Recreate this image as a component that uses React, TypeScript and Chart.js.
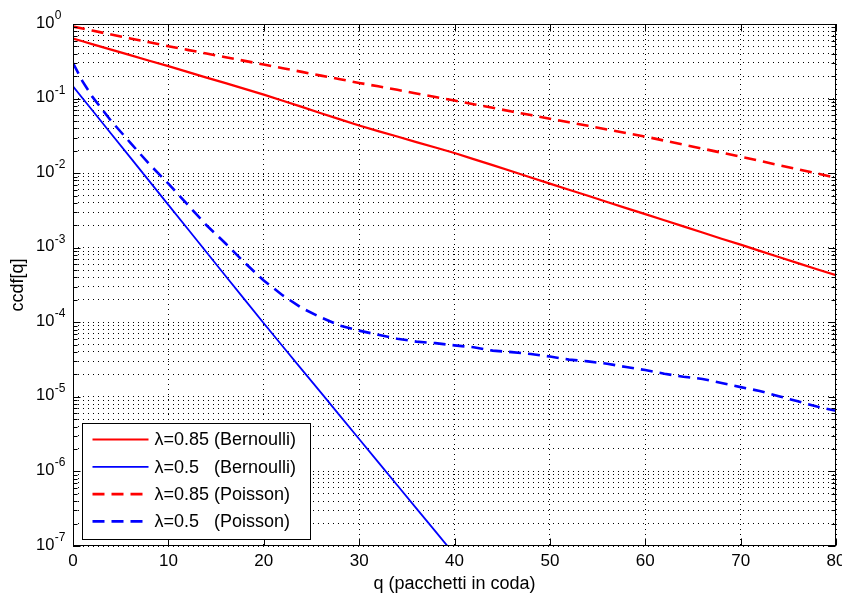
import React, { useEffect, useRef } from 'react';
import { Chart, registerables } from 'chart.js';

Chart.register(...registerables);

// ---- data ----
const qValues = [0, 1, 2, 4, 6, 8, 10, 12, 14, 16, 18, 20, 22, 24, 26, 28, 30, 32, 34, 36, 38, 40,
  42, 44, 46, 48, 50, 52, 54, 56, 58, 60, 62, 64, 66, 68, 70, 72, 74, 76, 78, 80];

const bernoulli085 = [0.638, 0.586, 0.538, 0.454, 0.383, 0.322, 0.272, 0.228, 0.191, 0.161, 0.135, 0.113,
  0.0935, 0.0773, 0.0637, 0.0526, 0.0435, 0.0366, 0.031, 0.0261, 0.0221, 0.0186, 0.0154, 0.0128, 0.0106,
  0.00875, 0.00724, 0.006, 0.00497, 0.00411, 0.0034, 0.00282, 0.00233, 0.00193, 0.0016, 0.00132, 0.0011,
  0.000908, 0.000752, 0.000622, 0.000515, 0.000427];

const bernoulli05 = [0.146, 0.101, 0.0703, 0.0338, 0.0163, 0.00782, 0.00376, 0.00181, 0.000869, 0.000418,
  0.000201, 0.000097, 4.73e-5, 2.32e-5, 1.14e-5, 5.56e-6, 2.72e-6, 1.33e-6, 6.53e-7, 3.2e-7, 1.57e-7, 7.67e-8,
  null, null, null, null, null, null, null, null, null, null, null, null, null, null, null, null, null, null, null, null];

const poisson085 = [0.923, 0.869, 0.817, 0.724, 0.641, 0.569, 0.504, 0.45, 0.402, 0.358, 0.32, 0.286,
  0.255, 0.228, 0.203, 0.182, 0.162, 0.146, 0.131, 0.117, 0.105, 0.094, 0.084, 0.0752, 0.0671, 0.0601,
  0.0537, 0.0481, 0.0431, 0.0385, 0.0345, 0.0309, 0.0273, 0.0241, 0.0213, 0.0188, 0.0166, 0.0146, 0.0128,
  0.0113, 0.0099, 0.0087];

const poisson05 = [0.3, 0.17, 0.107, 0.0501, 0.0257, 0.0132, 0.00724, 0.0038, 0.002, 0.00114, 0.00063,
  0.000363, 0.000229, 0.000155, 0.000116, 9.0e-5, 7.73e-5, 6.79e-5, 6.03e-5, 5.5e-5, 5.25e-5, 4.9e-5,
  4.62e-5, 4.17e-5, 3.98e-5, 3.76e-5, 3.47e-5, 3.16e-5, 2.99e-5, 2.78e-5, 2.51e-5, 2.29e-5, 2.04e-5,
  1.86e-5, 1.74e-5, 1.53e-5, 1.35e-5, 1.2e-5, 1.02e-5, 8.7e-6, 7.4e-6, 6.5e-6];

const seriesLabels = ['λ=0.85 (Bernoulli)', 'λ=0.5   (Bernoulli)', 'λ=0.85 (Poisson)', 'λ=0.5   (Poisson)'];
const xTickValues = [0, 10, 20, 30, 40, 50, 60, 70, 80];
const yTickExponents = [0, -1, -2, -3, -4, -5, -6, -7];
const xTitle = 'q (pacchetti in coda)';
const yTitle = 'ccdf[q]';

const FONT = "'Liberation Sans', Arial, Helvetica, sans-serif";

const toPoints = (vals: (number | null)[]) => qValues.map((q, i) => ({ x: q, y: vals[i] }));

const isDecade = (v: number) => Math.abs(Math.log10(v) - Math.round(Math.log10(v))) < 1e-9;

const decorPlugin = {
  id: 'matlabDecor',
  afterDraw(chart: any) {
    const { ctx, chartArea: a, scales } = chart;
    const xs = scales.x;
    const ys = scales.y;
    ctx.save();
    ctx.strokeStyle = '#000';
    ctx.lineWidth = 1;
    ctx.setLineDash([]);
    const L = Math.round(a.left) + 0.5;
    const R = Math.round(a.right) - 0.5;
    const T = Math.round(a.top) + 0.5;
    const B = Math.round(a.bottom) - 0.5;
    ctx.strokeRect(L, T, R - L, B - T);
    ctx.beginPath();
    xs.ticks.forEach((t: any) => {
      const px = Math.round(xs.getPixelForValue(t.value)) + 0.5;
      ctx.moveTo(px, B); ctx.lineTo(px, B - 7);
      ctx.moveTo(px, T); ctx.lineTo(px, T + 7);
    });
    ys.ticks.forEach((t: any) => {
      const py = Math.round(ys.getPixelForValue(t.value)) + 0.5;
      const len = isDecade(t.value) ? 7 : 4;
      ctx.moveTo(L, py); ctx.lineTo(L + len, py);
      ctx.moveTo(R, py); ctx.lineTo(R - len, py);
    });
    ctx.stroke();

    // y tick labels 10^e
    ctx.fillStyle = '#000';
    yTickExponents.forEach((e) => {
      const py = ys.getPixelForValue(Math.pow(10, e));
      ctx.font = `16.5px ${FONT}`;
      ctx.textAlign = 'left';
      ctx.textBaseline = 'middle';
      ctx.fillText('10', 36, py - 1);
      const w = ctx.measureText('10').width;
      ctx.font = `12px ${FONT}`;
      ctx.textBaseline = 'alphabetic';
      ctx.fillText(String(e), 36 + w + 0.5, py - 5);
    });

    // legend box
    const lx = Math.round(a.left) + 9.5;
    const ly = Math.round(a.bottom) - 122.5;
    const lw = 228;
    const lh = 116;
    ctx.fillStyle = '#fff';
    ctx.fillRect(lx, ly, lw, lh);
    ctx.strokeStyle = '#000';
    ctx.lineWidth = 1;
    ctx.strokeRect(lx, ly, lw, lh);
    chart.data.datasets.forEach((ds: any, i: number) => {
      const ry = ly + 16 + i * 27.3;
      ctx.save();
      ctx.strokeStyle = ds.borderColor;
      ctx.lineWidth = ds.borderWidth;
      ctx.setLineDash(ds.borderDash || []);
      ctx.beginPath();
      ctx.moveTo(lx + 10, ry);
      ctx.lineTo(lx + 66, ry);
      ctx.stroke();
      ctx.restore();
      ctx.fillStyle = '#000';
      ctx.font = `18px ${FONT}`;
      ctx.textAlign = 'left';
      ctx.textBaseline = 'middle';
      ctx.fillText(ds.label, lx + 72, ry + 1);
    });
    ctx.restore();
  },
};

export default function App() {
  const canvasRef = useRef<HTMLCanvasElement | null>(null);

  useEffect(() => {
    document.body.style.margin = '0';
    const canvas = canvasRef.current;
    if (!canvas) return;
    const yGrid: number[] = [];
    const exps = [...yTickExponents].sort((p, q) => p - q);
    exps.forEach((e) => {
      if (e === 0) { yGrid.push(1); return; }
      for (let m = 1; m <= 9; m++) yGrid.push(m * Math.pow(10, e));
    });

    const chart = new Chart(canvas, {
      type: 'line',
      data: {
        datasets: [
          { label: seriesLabels[0], data: toPoints(bernoulli085), borderColor: '#ff0000', borderWidth: 2.2, borderDash: [] },
          { label: seriesLabels[1], data: toPoints(bernoulli05), borderColor: '#0000ff', borderWidth: 1.8, borderDash: [] },
          { label: seriesLabels[2], data: toPoints(poisson085), borderColor: '#ff0000', borderWidth: 2.6, borderDash: [12, 7] },
          { label: seriesLabels[3], data: toPoints(poisson05), borderColor: '#0000ff', borderWidth: 2.6, borderDash: [12, 7] },
        ] as any,
      },
      options: {
        responsive: false,
        animation: false,
        layout: { padding: { top: 24, right: 6, left: 0, bottom: 0 } },
        elements: { point: { radius: 0 }, line: { tension: 0 } },
        plugins: { legend: { display: false }, tooltip: { enabled: false } },
        scales: {
          x: {
            type: 'linear',
            min: 0,
            max: 80,
            afterBuildTicks: (s: any) => { s.ticks = xTickValues.map((v) => ({ value: v })); },
            afterFit: (s: any) => { s.height = 51; s.paddingLeft = 0; s.paddingRight = 0; },
            ticks: {
              autoSkip: false, maxRotation: 0, padding: 5, color: '#000',
              font: { size: 17, family: FONT },
              callback: (v: any) => String(v),
            },
            grid: { color: '#000', lineWidth: 1, drawTicks: false },
            border: { display: false, dash: [1, 4] },
            title: { display: true, text: xTitle, color: '#000', font: { size: 18, family: FONT }, padding: { top: 0, bottom: 2 } },
          },
          y: {
            type: 'logarithmic',
            min: 1e-7,
            max: 1,
            afterBuildTicks: (s: any) => { s.ticks = yGrid.map((v) => ({ value: v, major: isDecade(v) })); },
            afterFit: (s: any) => { s.width = 73; s.paddingTop = 0; s.paddingBottom = 0; },
            ticks: { display: false, autoSkip: false, callback: () => ' ' },
            grid: { color: '#000', lineWidth: 1, drawTicks: false },
            border: { display: false, dash: [1, 4] },
            title: { display: true, text: yTitle, color: '#000', font: { size: 18, family: FONT }, padding: { top: 7, bottom: 0 } },
          },
        },
      } as any,
      plugins: [decorPlugin],
    });
    return () => chart.destroy();
  }, []);

  return (
    <div style={{ width: 842, height: 597 }}>
      <canvas ref={canvasRef} width={842} height={597} style={{ display: 'block' }} />
    </div>
  );
}
